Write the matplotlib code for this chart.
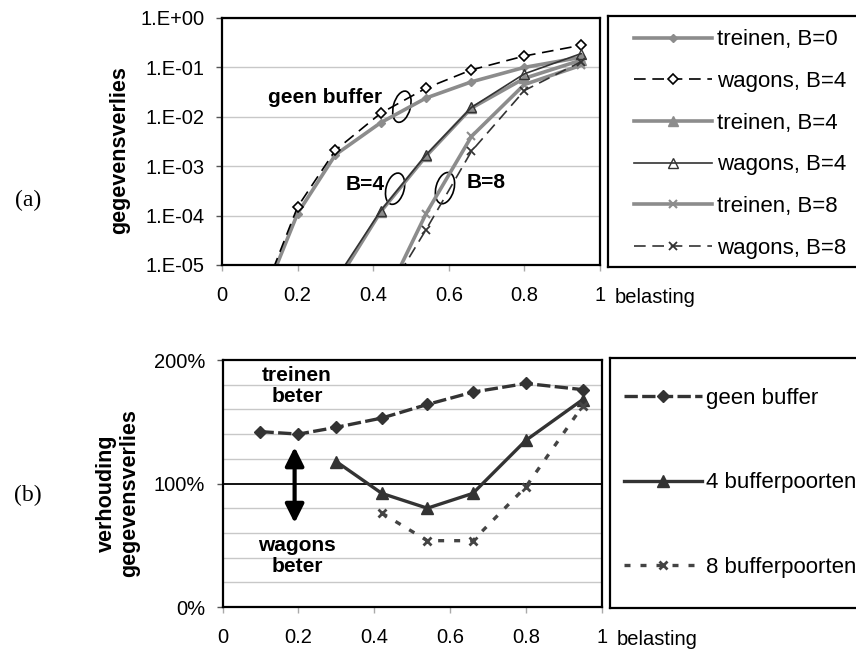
"""
Dataverlies van treinen versus wagons, als functie van de belasting.
(a) absoluut gegevensverlies (log-schaal), (b) verhouding wagons / treinen.
"""

import numpy as np
import matplotlib
matplotlib.use("Agg")
import matplotlib.pyplot as plt
from matplotlib.patches import Ellipse
from matplotlib.transforms import ScaledTranslation
from matplotlib.ticker import FuncFormatter, MultipleLocator

plt.rcParams['font.family'] = ['Liberation Sans', 'DejaVu Sans']

nan = np.nan

# ---- Data
load = [0.1, 0.2, 0.3, 0.42, 0.54, 0.66, 0.8, 0.95]

# (a) gegevensverlies
treinen_b0 = [1.4e-6, 1.1e-4, 1.7e-3, 7.6e-3, 0.024, 0.051, 0.10, 0.16]
wagons_b0 = [1.7e-6, 1.5e-4, 2.1e-3, 0.0118, 0.038, 0.089, 0.17, 0.28]
treinen_b4 = [nan, nan, 4e-6, 1.2e-4, 1.6e-3, 0.015, 0.06, 0.14]
wagons_b4 = [nan, nan, 5e-6, 1.26e-4, 1.7e-3, 0.0155, 0.074, 0.19]
treinen_b8 = [nan, nan, nan, 1.4e-6, 1.1e-4, 4e-3, 0.045, 0.11]
wagons_b8 = [nan, nan, nan, 1.6e-6, 5.2e-5, 2e-3, 0.034, 0.13]

# (b) verhouding gegevensverlies [%]
ratio_geen = [142, 140, 145.5, 153, 164, 174, 181, 176]
ratio_4 = [nan, nan, 117.7, 92, 80, 92, 135, 168]
ratio_8 = [nan, nan, nan, 76, 53.7, 53.7, 97.4, 163]

grey = '#8c8c8c'
dark = '#333333'

fig = plt.figure(figsize=(8.56, 6.49), dpi=100)

# ---- (a)
ax = fig.add_axes([0.2593, 0.5917, 0.4416, 0.3806])
ax.set_yscale('log')

ax.plot(load, treinen_b0, '-', color=grey, lw=2.6, marker='D', ms=4,
        label='treinen, B=0')
ax.plot(load, wagons_b0, color='k', lw=1.2, ls=(0, (7, 4)), marker='D', ms=5.5,
        mfc='white', mec='k', mew=1.2, label='wagons, B=4')
ax.plot(load, treinen_b4, '-', color=grey, lw=2.6, marker='^', ms=7,
        label='treinen, B=4')
ax.plot(load, wagons_b4, '-', color=dark, lw=1.2, marker='^', ms=7,
        mfc='none', mec=dark, mew=1.0, label='wagons, B=4')
ax.plot(load, treinen_b8, '-', color=grey, lw=2.6, marker='x', ms=6, mew=1.5,
        label='treinen, B=8')
ax.plot(load, wagons_b8, color=dark, lw=1.2, ls=(0, (7, 4)), marker='x', ms=6,
        mew=1.3, label='wagons, B=8')

ax.set_xlim(0, 1)
ax.set_ylim(1e-5, 1)
ax.set_xticks([0, 0.2, 0.4, 0.6, 0.8, 1])
ax.set_xticklabels(['0', '0.2', '0.4', '0.6', '0.8', '1'])
ax.set_yticks([1e-5, 1e-4, 1e-3, 1e-2, 1e-1, 1])
ax.yaxis.set_major_formatter(
    FuncFormatter(lambda v, pos: "1.E%+03d" % int(round(np.log10(v)))))
ax.yaxis.set_minor_locator(matplotlib.ticker.NullLocator())
ax.grid(axis='y', color='#c8c8c8', lw=1.0)
ax.set_axisbelow(True)
for s in ax.spines.values():
    s.set_linewidth(1.6)
ax.tick_params(axis='y', direction='out', length=4, width=1, pad=8.5,
               labelsize=14.5, color='#555555')
ax.tick_params(axis='x', direction='out', length=4, width=1, pad=11,
               labelsize=14.5, color='#aaaaaa')
ax.text(1.04, -0.13, 'belasting', transform=ax.transAxes, ha='left',
        va='center', fontsize=14.5)

# annotations with ellipses (sizes in inches, centre in data coords)
def ring(a, x, y, w=0.17, h=0.32, ang=-15):
    e = Ellipse((0, 0), w, h, angle=ang, fill=False, ec='k', lw=1.2,
                transform=fig.dpi_scale_trans + ScaledTranslation(x, y, a.transData))
    a.add_patch(e)

ring(ax, 0.476, 0.016)
ring(ax, 0.458, 3.5e-4, w=0.18)
ring(ax, 0.59, 3.6e-4, w=0.18)
ax.text(0.272, 0.025, 'geen buffer', ha='center', va='center', fontsize=15,
        fontweight='bold')
ax.text(0.378, 4.2e-4, 'B=4', ha='center', va='center', fontsize=15,
        fontweight='bold')
ax.text(0.70, 4.6e-4, 'B=8', ha='center', va='center', fontsize=15,
        fontweight='bold')

# legend box (a)
lax = fig.add_axes([608 / 856, 1 - 267 / 649, 262 / 856, 251 / 649])
lax.set_xticks([])
lax.set_yticks([])
for s in lax.spines.values():
    s.set_linewidth(1.6)
h, l = ax.get_legend_handles_labels()
lax.legend(h, l, loc='center left', bbox_to_anchor=(26 / 262, 0.49),
           frameon=False, fontsize=16, handlelength=3.5, handletextpad=0.25,
           labelspacing=0.93, borderpad=0, borderaxespad=0)

fig.text(120 / 856, 1 - 150 / 649, 'gegevensverlies', rotation=90,
         ha='center', va='center', fontsize=15.5, fontweight='bold')
fig.text(28 / 856, 1 - 200 / 649, '(a)', ha='center', va='center',
         fontsize=17, family=['Liberation Serif', 'DejaVu Serif'])

# ---- (b)
bx = fig.add_axes([0.26, 0.0647, 0.443, 0.3806])
bx.plot(load, ratio_geen, color=dark, lw=2.4, ls=(0, (4, 1.3)), marker='D',
        ms=6, label='geen buffer')
bx.plot(load, ratio_4, '-', color=dark, lw=2.4, marker='^', ms=8,
        label='4 bufferpoorten')
bx.plot(load, ratio_8, color='#444444', lw=2.4, ls=(0, (1.8, 3.0)), marker='x',
        ms=6, mew=2, label='8 bufferpoorten')

bx.set_xlim(0, 1)
bx.set_ylim(0, 200)
bx.set_xticks([0, 0.2, 0.4, 0.6, 0.8, 1])
bx.set_xticklabels(['0', '0.2', '0.4', '0.6', '0.8', '1'])
bx.set_yticks([0, 100, 200])
bx.set_yticklabels(['0%', '100%', '200%'])
bx.yaxis.set_minor_locator(MultipleLocator(20))
bx.grid(axis='y', which='minor', color='#c8c8c8', lw=1.0)
bx.axhline(100, color='k', lw=1.3, zorder=1.5)
bx.set_axisbelow(True)
for s in bx.spines.values():
    s.set_linewidth(1.6)
bx.tick_params(axis='y', which='major', direction='out', length=4, width=1,
               pad=8.5, labelsize=14.5, color='#555555')
bx.tick_params(axis='y', which='minor', length=0)
bx.tick_params(axis='x', direction='out', length=4, width=1, pad=11,
               labelsize=14.5, color='#aaaaaa')
bx.text(1.04, -0.13, 'belasting', transform=bx.transAxes, ha='left',
        va='center', fontsize=14.5)

bx.text(0.196, 179, 'treinen\nbeter', ha='center', va='center', fontsize=15,
        fontweight='bold', linespacing=1.15)
bx.text(0.196, 41.5, 'wagons\nbeter', ha='center', va='center', fontsize=15,
        fontweight='bold', linespacing=1.15)
bx.annotate('', xy=(0.19, 129.5), xytext=(0.19, 68),
            arrowprops=dict(arrowstyle='<|-|>', color='k', lw=3,
                            mutation_scale=28, shrinkA=0, shrinkB=0))

# legend box (b)
lbx = fig.add_axes([610 / 856, 1 - 608 / 649, 260 / 856, 250 / 649])
lbx.set_xticks([])
lbx.set_yticks([])
for s in lbx.spines.values():
    s.set_linewidth(1.6)
h, l = bx.get_legend_handles_labels()
lbx.legend(h, l, loc='center left', bbox_to_anchor=(14 / 260, 0.5),
           frameon=False, fontsize=16, handlelength=3.5, handletextpad=0.2,
           labelspacing=2.85, borderpad=0, borderaxespad=0)

fig.text(118 / 856, 1 - 493 / 649, 'verhouding\ngegevensverlies', rotation=90,
         ha='center', va='center', fontsize=15.5, fontweight='bold',
         linespacing=1.15)
fig.text(28 / 856, 1 - 495 / 649, '(b)', ha='center', va='center',
         fontsize=17, family=['Liberation Serif', 'DejaVu Serif'])

fig.savefig('out.png', dpi=100)
